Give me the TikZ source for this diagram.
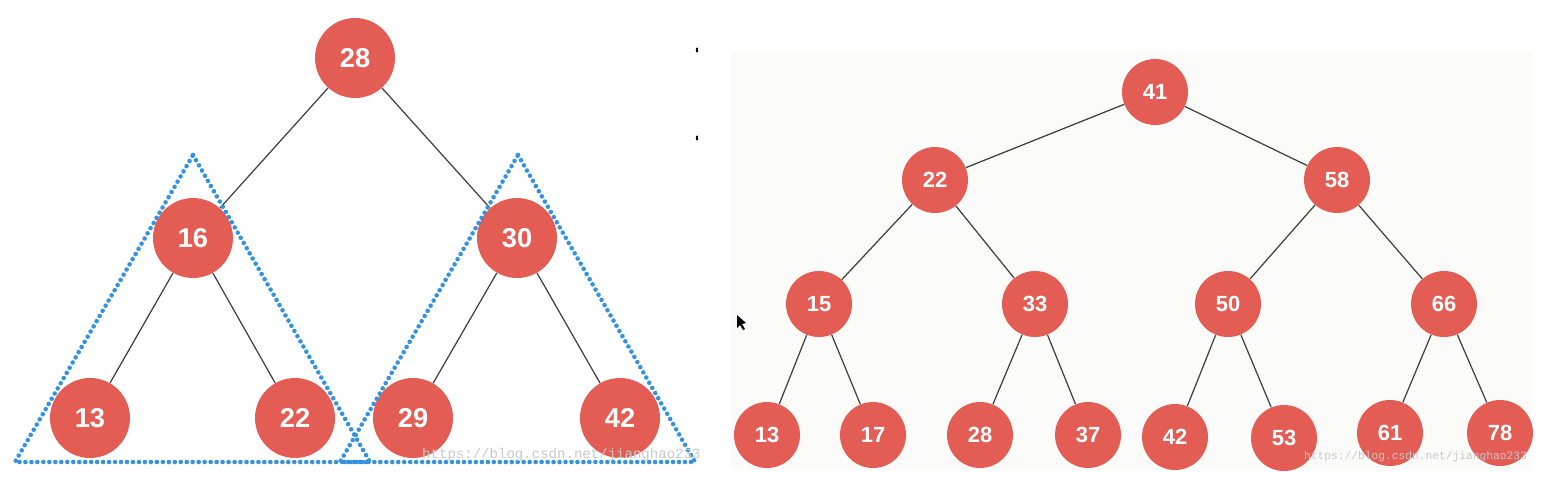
\documentclass[tikz,border=0pt]{standalone}
\usepackage{fontspec}
\setmainfont{Liberation Sans}
\setmonofont{Liberation Mono}
\usepackage{xcolor}
\usepackage{tikz}
\usetikzlibrary{calc}

\definecolor{nodered}{RGB}{228,93,85}
\definecolor{dotblue}{RGB}{52,146,222}
\definecolor{panelgray}{RGB}{251,251,250}
\definecolor{markgray}{RGB}{200,200,200}

\tikzset{
  bignode/.style={circle, fill=nodered, text=white, minimum size=1.6cm,
    inner sep=0pt, font=\fontsize{15.5}{15.5}\selectfont\bfseries},
  smallnode/.style={circle, fill=nodered, text=white, minimum size=1.32cm,
    inner sep=0pt, font=\fontsize{12.5}{12.5}\selectfont\bfseries},
  edge/.style={draw=black!75, line width=0.7pt},
  subtree/.style={draw=dotblue, line width=2.6pt, line cap=round,
    dash pattern=on 0pt off 3.4pt},
  watermark/.style={text=markgray, font=\ttfamily\fontsize{8}{8}\selectfont}
}

\begin{document}
\begin{tikzpicture}[x=0.02cm, y=-0.02cm]
  \useasboundingbox (0,0) rectangle (1554,490);
  \fill[white] (0,0) rectangle (1554,490);
  \fill[panelgray] (731,52) rectangle (1532,470);
  % stray marks
  \fill (697,50) ellipse (1.2 and 2.5);
  \fill (697,138) ellipse (1.2 and 2.5);
  \fill (737,315) -- (737,328) -- (740,325) -- (743,330) -- (745,329)
        -- (742,324) -- (746,323) -- cycle;

  % left tree
  \node[bignode] (l28) at (355,58)  {28};
  \node[bignode] (l16) at (193,238) {16};
  \node[bignode] (l30) at (517,238) {30};
  \node[bignode] (l13) at (90,418)  {13};
  \node[bignode] (l22) at (295,418) {22};
  \node[bignode] (l29) at (413,418) {29};
  \node[bignode] (l42) at (620,418) {42};
  \draw[edge] (l28) -- (l16);
  \draw[edge] (l28) -- (l30);
  \draw[edge] (l16) -- (l13);
  \draw[edge] (l16) -- (l22);
  \draw[edge] (l30) -- (l29);
  \draw[edge] (l30) -- (l42);
  % subtree outlines
  \coordinate (ltop) at (193,155);
  \coordinate (lbl)  at (15,462);
  \coordinate (lbr)  at (370,462);
  \coordinate (rtop) at (518,155);
  \coordinate (rbl)  at (340,462);
  \coordinate (rbr)  at (695,462);
  \draw[subtree] (ltop) -- (lbr) -- (lbl) -- cycle;
  \draw[subtree] (rtop) -- (rbr) -- (rbl) -- cycle;
  \node[watermark, anchor=west] (wl) at (416,455) {https://blog.csdn.net/jianghao233};

  % right tree
  \node[smallnode] (r41) at (1155,92)  {41};
  \node[smallnode] (r22) at (935,180)  {22};
  \node[smallnode] (r58) at (1337,180) {58};
  \node[smallnode] (r15) at (819,304)  {15};
  \node[smallnode] (r33) at (1035,304) {33};
  \node[smallnode] (r50) at (1228,304) {50};
  \node[smallnode] (r66) at (1444,304) {66};
  \node[smallnode] (r13) at (767,435)  {13};
  \node[smallnode] (r17) at (873,435)  {17};
  \node[smallnode] (r28) at (980,435)  {28};
  \node[smallnode] (r37) at (1088,435) {37};
  \node[smallnode] (r42) at (1175,437) {42};
  \node[smallnode] (r53) at (1284,438) {53};
  \node[smallnode] (r61) at (1390,433) {61};
  \node[smallnode] (r78) at (1500,433) {78};
  \draw[edge] (r41) -- (r22);
  \draw[edge] (r41) -- (r58);
  \draw[edge] (r22) -- (r15);
  \draw[edge] (r22) -- (r33);
  \draw[edge] (r58) -- (r50);
  \draw[edge] (r58) -- (r66);
  \draw[edge] (r15) -- (r13);
  \draw[edge] (r15) -- (r17);
  \draw[edge] (r33) -- (r28);
  \draw[edge] (r33) -- (r37);
  \draw[edge] (r50) -- (r42);
  \draw[edge] (r50) -- (r53);
  \draw[edge] (r66) -- (r61);
  \draw[edge] (r66) -- (r78);
  \node[watermark, anchor=west, font=\ttfamily\fontsize{6.4}{8}\selectfont]
    (wr) at (1298,457) {https://blog.csdn.net/jianghao233};
\end{tikzpicture}
\end{document}
